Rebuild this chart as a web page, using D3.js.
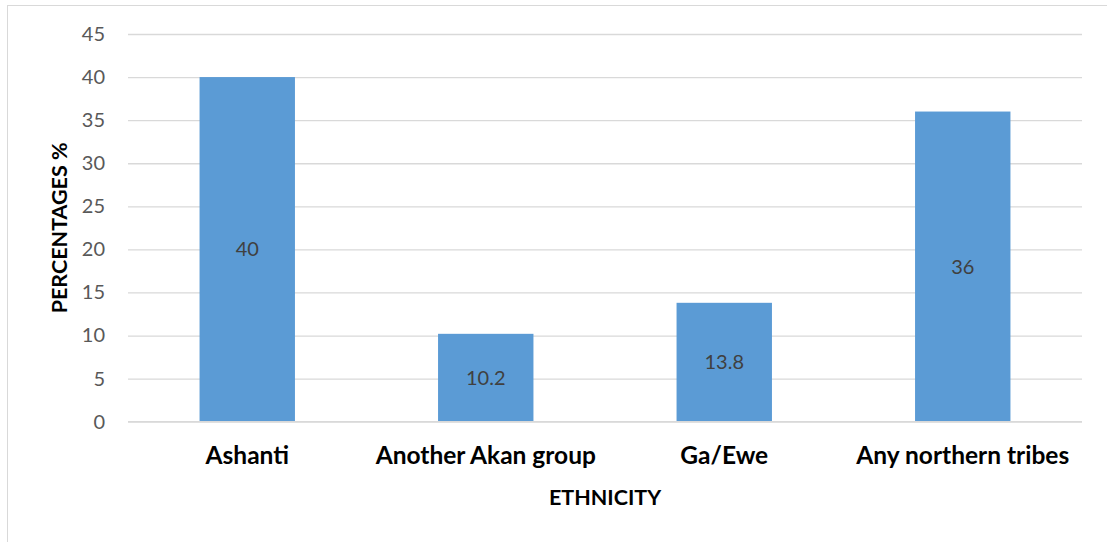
<!DOCTYPE html>
<html>
<head>
<meta charset="utf-8">
<script src="https://cdn.jsdelivr.net/npm/d3@7"></script>
<style>
  html, body { margin: 0; padding: 0; background: #fff; }
  svg { display: block; }
  text { font-family: Lato, "Open Sans", sans-serif; }
</style>
</head>
<body>
<svg id="chart" width="1107" height="542"></svg>
<script>
// Ethnicity breakdown of respondents (percent)
const categories = ["Ashanti", "Another Akan group", "Ga/Ewe", "Any northern tribes"];
const percentages = [40, 10.2, 13.8, 36];
const yTicks = [0, 5, 10, 15, 20, 25, 30, 35, 40, 45];

const W = 1107, H = 542;
const margin = { left: 128, right: 25, top: 34, bottom: 120 };
const svg = d3.select("#chart");

// outer chart frame
svg.append("rect")
  .attr("x", 7.5).attr("y", 5.5)
  .attr("width", W + 10).attr("height", H + 10)
  .attr("fill", "none").attr("stroke", "#d9d9d9").attr("stroke-width", 1);

const x = d3.scaleBand()
  .domain(categories)
  .range([margin.left, W - margin.right])
  .paddingInner(0.6)
  .paddingOuter(0.3);

const y = d3.scaleLinear()
  .domain([0, 45])
  .range([421.7, margin.top]);

// horizontal gridlines + y tick labels
const yAxis = d3.axisLeft(y)
  .tickValues(yTicks)
  .tickSize(-(W - margin.right - margin.left))
  .tickPadding(23);

const gy = svg.append("g")
  .attr("transform", `translate(${margin.left},0)`)
  .call(yAxis);
gy.select(".domain").remove();
gy.selectAll(".tick line").attr("stroke", "#d9d9d9").attr("stroke-width", 1.3);
gy.selectAll(".tick text")
  .attr("fill", "#595959")
  .style("font-size", "20px");

// bars
svg.append("g").selectAll("rect")
  .data(categories)
  .join("rect")
  .attr("x", d => x(d))
  .attr("width", x.bandwidth())
  .attr("y", (d, i) => y(percentages[i]))
  .attr("height", (d, i) => y(0) - y(percentages[i]))
  .attr("fill", "#5b9bd5");

// value labels centered inside bars
svg.append("g").selectAll("text")
  .data(categories)
  .join("text")
  .attr("x", d => x(d) + x.bandwidth() / 2)
  .attr("y", (d, i) => y(percentages[i] / 2))
  .attr("dy", "0.35em")
  .attr("text-anchor", "middle")
  .attr("fill", "#404040")
  .style("font-size", "20px")
  .text((d, i) => percentages[i]);

// category axis
const xAxis = d3.axisBottom(x).tickSize(0).tickPadding(0);
const gx = svg.append("g")
  .attr("transform", `translate(0,${y(0)})`)
  .call(xAxis);
gx.select(".domain").remove();
gx.selectAll(".tick text")
  .attr("y", 34)
  .attr("dy", "0.35em")
  .attr("fill", "#000")
  .style("font-size", "24.5px")
  .style("font-weight", "bold");

// baseline
svg.append("line")
  .attr("x1", margin.left).attr("x2", W - margin.right)
  .attr("y1", y(0)).attr("y2", y(0))
  .attr("stroke", "#d9d9d9").attr("stroke-width", 1.3);

// axis titles
svg.append("text")
  .attr("x", (margin.left + W - margin.right) / 2)
  .attr("y", 497)
  .attr("dy", "0.35em")
  .attr("text-anchor", "middle")
  .style("font-size", "21.5px")
  .style("font-weight", "bold")
  .text("ETHNICITY");

svg.append("text")
  .attr("transform", `translate(59,${(y(0) + y(45)) / 2}) rotate(-90)`)
  .attr("dy", "0.35em")
  .attr("text-anchor", "middle")
  .style("font-size", "21.5px")
  .style("font-weight", "bold")
  .text("PERCENTAGES %");
</script>
</body>
</html>
